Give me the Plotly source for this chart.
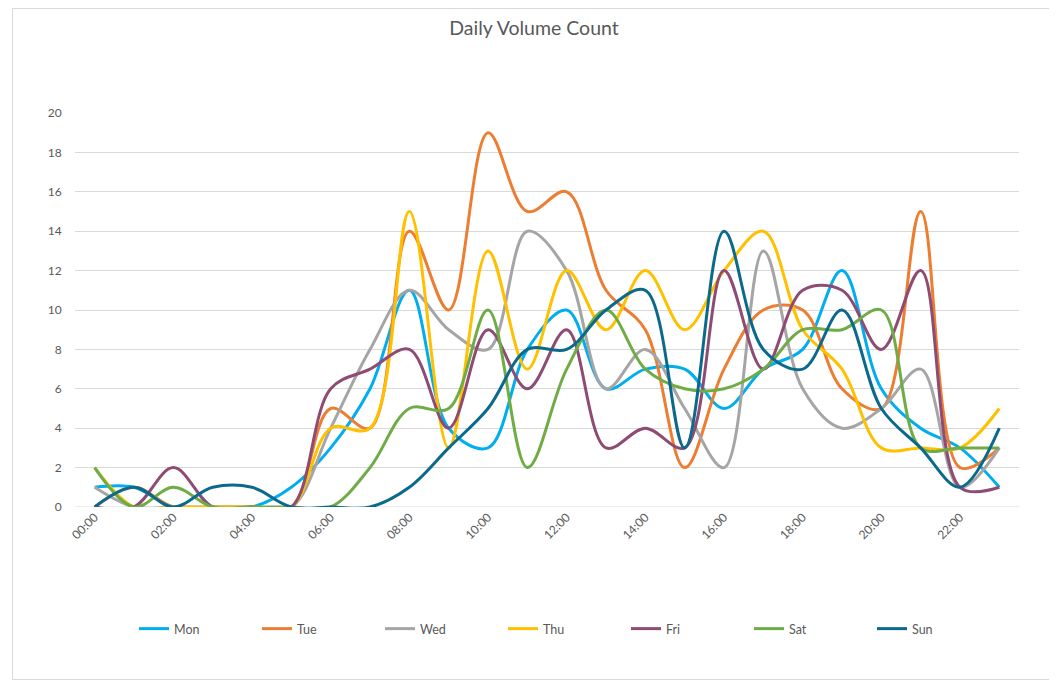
import plotly.graph_objects as go

hours = [f"{h:02d}:00" for h in range(24)]
tick_labels = [f"{h:02d}:00" for h in range(0, 24, 2)]

mon = [1, 1, 0, 0, 0, 1, 3, 6, 11, 4, 3, 8, 10, 6, 7, 7, 5, 7, 8, 12, 6, 4, 3, 1]
tue = [0, 1, 0, 0, 0, 0, 5, 4, 14, 10, 19, 15, 16, 11, 9, 2, 7, 10, 10, 6, 5, 15, 2, 3]
wed = [1, 0, 0, 0, 0, 0, 4, 8, 11, 9, 8, 14, 12, 6, 8, 5, 2, 13, 6, 4, 5, 7, 1, 3]
thu = [2, 0, 0, 0, 0, 0, 4, 4, 15, 3, 13, 7, 12, 9, 12, 9, 12, 14, 9, 7, 3, 3, 3, 5]
fri = [0, 0, 2, 0, 0, 0, 6, 7, 8, 4, 9, 6, 9, 3, 4, 3, 12, 7, 11, 11, 8, 12, 1, 1]
sat = [2, 0, 1, 0, 0, 0, 0, 2, 5, 5, 10, 2, 7, 10, 7, 6, 6, 7, 9, 9, 10, 3, 3, 3]
sun = [0, 1, 0, 1, 1, 0, 0, 0, 1, 3, 5, 8, 8, 10, 11, 3, 14, 8, 7, 10, 5, 3, 1, 4]

series = [
    ("Mon", mon, "#00AEEF"),
    ("Tue", tue, "#ED7D31"),
    ("Wed", wed, "#A5A5A5"),
    ("Thu", thu, "#FFC000"),
    ("Fri", fri, "#8E4B73"),
    ("Sat", sat, "#6FAC46"),
    ("Sun", sun, "#0B6A8C"),
]

FONT = "Lato"
TXT = "#595959"

fig = go.Figure()
x_idx = list(range(len(hours)))
for name, vals, col in series:
    fig.add_trace(go.Scatter(
        x=x_idx, y=vals, name=name, mode="lines",
        line=dict(color=col, width=3, shape="spline", smoothing=1),
        hoverinfo="skip",
    ))

# page body has an 8px margin; work in figure coordinates
OFF = 8
W, H = 1057 - OFF, 682 - OFF
L = 75 - OFF
T = 113 - OFF
R = W - (1019 - OFF)
B = H - (507 - OFF)
pw = W - L - R
ph = H - T - B

def px_to_paper_x(page_px):
    return (page_px - OFF - L) / pw

def px_to_paper_y(page_py):
    return (H - B - (page_py - OFF)) / ph

fig.update_layout(
    width=W, height=H,
    margin=dict(l=L, r=R, t=T, b=B),
    paper_bgcolor="white", plot_bgcolor="white",
    font=dict(family=FONT, color=TXT, size=12),
    title=dict(text="Daily Volume Count", x=(534 - OFF) / W, xref="container", xanchor="center",
               y=1 - (28 - OFF) / H, yref="container", yanchor="middle",
               font=dict(family=FONT, size=19.5, color=TXT)),
    xaxis=dict(
        range=[-0.5, 23.5], tickmode="array",
        tickvals=list(range(0, 24, 2)), ticktext=tick_labels,
        tickangle=-45, showgrid=False, zeroline=False,
        showline=False, ticks="", tickfont=dict(size=12, color=TXT, family=FONT),
    ),
    yaxis=dict(
        range=[0, 20], dtick=2, tick0=0, showgrid=True, gridcolor="#D9D9D9", gridwidth=1,
        zeroline=False, showline=False, ticks="outside", ticklen=10, tickcolor="rgba(0,0,0,0)",
        tickfont=dict(size=12, color=TXT, family=FONT),
    ),
    legend=dict(
        orientation="h", x=px_to_paper_x(134), xanchor="left",
        y=px_to_paper_y(629), yanchor="middle",
        font=dict(size=12.5, color=TXT, family=FONT),
        entrywidth=78, entrywidthmode="pixels",
        bgcolor="rgba(0,0,0,0)",
    ),
    showlegend=True,
    hovermode=False,
)

# baseline gridline at 0 and outer chart border
fig.add_shape(type="line", xref="paper", yref="y", x0=0, x1=1, y0=0, y1=0,
              line=dict(color="#D9D9D9", width=1), layer="below")
fig.add_shape(type="rect", xref="paper", yref="paper",
              x0=px_to_paper_x(12.5), x1=px_to_paper_x(1055.5),
              y0=px_to_paper_y(679.5), y1=px_to_paper_y(OFF + 0.5),
              line=dict(color="#D9D9D9", width=1), fillcolor="rgba(0,0,0,0)", layer="below")

fig.write_html("out.html")
